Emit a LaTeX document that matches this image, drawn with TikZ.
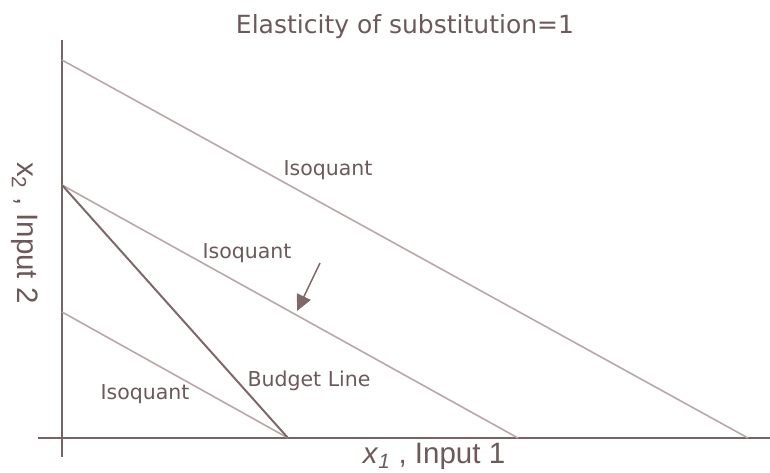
\documentclass[tikz,border=0pt]{standalone}
\usepackage{fontspec}
\setmainfont{DejaVu Sans}
\newfontfamily\axisfont{Liberation Sans}
\usetikzlibrary{arrows.meta}
\definecolor{txt}{HTML}{6E5858}
\definecolor{axc}{HTML}{7A6262}
\definecolor{iso}{HTML}{B8A8A8}
\definecolor{bud}{HTML}{806868}
\tikzset{
  isoline/.style={draw=iso, line width=1.6pt},
  budline/.style={draw=bud, line width=2pt},
  axline/.style={draw=axc, line width=2pt},
  lbl/.style={text=txt, font=\fontsize{20.5}{24}\selectfont, inner sep=0pt},
  axlbl/.style={text=txt, font=\axisfont\fontsize{29.5}{34}\selectfont, inner sep=0pt},
}
\begin{document}
\begin{tikzpicture}[x=1pt,y=-1pt]
\useasboundingbox (0,0) rectangle (770,472);
% axes
\coordinate (ytop) at (62,40);
\coordinate (ybot) at (62,457);
\coordinate (xl) at (38,438);
\coordinate (xr) at (770,438);
\draw[axline] (ytop) -- (ybot);
\draw[axline] (xl) -- (xr);
% isoquants
\coordinate (a1) at (62,60);  \coordinate (b1) at (748,438);
\coordinate (a2) at (62,185); \coordinate (b2) at (518,438);
\coordinate (a3) at (62,312); \coordinate (b3) at (288,438);
\draw[isoline] (a1) -- (b1);
\draw[isoline] (a2) -- (b2);
\draw[isoline] (a3) -- (b3);
\draw[budline] (a2) -- (b3);
% arrow
\coordinate (arS) at (320,263);
\coordinate (arE) at (297,311);
\draw[draw=bud, line width=1.5pt, -{Triangle[length=16pt,width=15pt]}, fill=bud] (arS) -- (arE);
% labels
\node[lbl] (title) at (405,27) {\fontsize{25}{30}\selectfont Elasticity of substitution=1};
\node[lbl] (iq1) at (328,170) {Isoquant};
\node[lbl] (iq2) at (247,253) {Isoquant};
\node[lbl] (iq3) at (145,394) {Isoquant};
\node[lbl] (bl) at (309,381) {Budget Line};
\node[axlbl] (xlab) at (434,456) {\textit{x}\textsubscript{\textit{1}} , Input 1};
\node[axlbl, rotate=-90] (ylab) at (25,233) {x\textsubscript{2} , Input 2};
\end{tikzpicture}
\end{document}
